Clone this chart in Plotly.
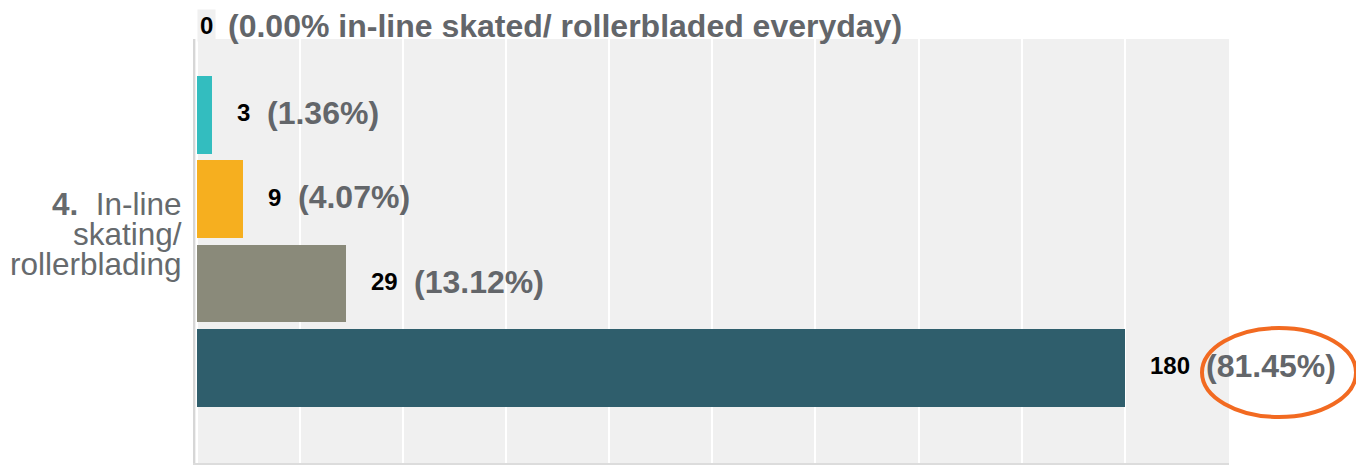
import plotly.graph_objects as go

# ---- data ----
counts = [0, 3, 9, 29, 180]
percents = ["0.00%", "1.36%", "4.07%", "13.12%", "81.45%"]
top_suffix = " in-line skated/ rollerbladed everyday"
bar_colors = ["#33BDBF", "#33BDBF", "#F6AF1F", "#8A8A7A", "#2F5E6C"]
category_lines = ["<b>4.</b>\u00a0\u00a0In-line", "skating/", "rollerblading"]
x_max = 200
x_step = 20

positions = list(range(len(counts)))

# page body adds an 8px offset; work in window pixels and convert
OFF = 8
W, H = 1364, 465
PL, PR, PT, PB = 195, 1229, 39, 463  # plot area in window pixels
ML = PL - OFF
MT = PT - OFF
MR = W - (PR - OFF)
MB = H - (PB - OFF)
plot_w = PR - PL
plot_h = PB - PT

x0_px = 1.5
unit_px = 5.158
pitch_px = 84.3
y_range = [len(counts) - 1 + (PB - 367.8) / pitch_px, (PT - 30.6) / pitch_px]


def y_to_paper(pos):
    # map a category position through the y axis range to paper coords
    return (y_range[0] - pos) / (y_range[0] - y_range[1])


def px_to_paper_x(px):
    return (px - PL) / plot_w


def px_to_paper_y(py):
    return (PB - py) / plot_h


fig = go.Figure()
fig.add_trace(go.Bar(
    x=counts, y=positions, orientation="h",
    marker=dict(color=bar_colors, line=dict(width=0)),
    width=0.92, hoverinfo="skip", showlegend=False,
))

font_family = "Liberation Sans, Arial, sans-serif"
pct_color = "#63666A"
count_size = 24
ann = []
for i, (c, p) in enumerate(zip(counts, percents)):
    ndig = len(str(c))
    if c == 0:
        cshift = 0
        pshift = cshift + ndig * 13 + 16
        ann.append(dict(x=c, y=y_to_paper(i), xref="x", yref="paper", text="<b>%d</b>" % c,
                        showarrow=False, xanchor="left", yanchor="middle",
                        xshift=cshift, yshift=5, bgcolor="#F0F0F0", borderpad=2,
                        font=dict(size=count_size, color="#000000", family=font_family)))
        ann.append(dict(x=c, y=y_to_paper(i), xref="x", yref="paper",
                        text="<b>(%s%s)</b>" % (p, top_suffix),
                        showarrow=False, xanchor="left", yanchor="middle",
                        xshift=pshift, yshift=5,
                        font=dict(size=32, color=pct_color, family=font_family)))
    else:
        cshift = 23
        pshift = cshift + ndig * 13 + 17
        ann.append(dict(x=c, y=i, xref="x", yref="y", text="<b>%d</b>" % c,
                        showarrow=False, xanchor="left", yanchor="middle",
                        xshift=cshift, yshift=2,
                        font=dict(size=count_size, color="#000000", family=font_family)))
        ann.append(dict(x=c, y=i, xref="x", yref="y", text="<b>(%s)</b>" % p,
                        showarrow=False, xanchor="left", yanchor="middle",
                        xshift=pshift, yshift=2,
                        font=dict(size=32, color=pct_color, family=font_family)))

# category label (three tightly spaced lines)
line_px = [204, 234, 264]
for t, py in zip(category_lines, line_px):
    ann.append(dict(x=0, y=px_to_paper_y(py), xref="paper", yref="paper",
                    text=t, showarrow=False, xanchor="right", yanchor="middle",
                    xshift=-11,
                    font=dict(size=31.5, color="#666A6D", family=font_family)))

shapes = [
    # highlight ellipse around the largest percentage
    dict(type="circle", xref="paper", yref="paper",
         x0=px_to_paper_x(1202), x1=px_to_paper_x(1356),
         y0=px_to_paper_y(417), y1=px_to_paper_y(328),
         line=dict(color="#F26A21", width=4)),
    # right frame line
    dict(type="line", xref="paper", yref="paper",
         x0=px_to_paper_x(1361), x1=px_to_paper_x(1361),
         y0=px_to_paper_y(470), y1=px_to_paper_y(0),
         line=dict(color="#9A9A9A", width=2)),
]

fig.update_layout(
    width=W, height=H,
    margin=dict(l=ML, r=MR, t=MT, b=MB, pad=0),
    paper_bgcolor="white", plot_bgcolor="#F0F0F0",
    bargap=0,
    xaxis=dict(range=[-x0_px / unit_px, -x0_px / unit_px + plot_w / unit_px],
               dtick=x_step, tick0=0, showgrid=True, gridcolor="white", gridwidth=2,
               showticklabels=False, zeroline=False, ticks="",
               showline=True, linecolor="#DCDCDC", linewidth=2, fixedrange=True),
    yaxis=dict(range=y_range,
               showgrid=False, showticklabels=False, zeroline=False, ticks="",
               showline=True, linecolor="#D6D6D6", linewidth=2, fixedrange=True),
    annotations=ann, shapes=shapes,
    font=dict(family=font_family),
)

fig.write_html("out.html")
